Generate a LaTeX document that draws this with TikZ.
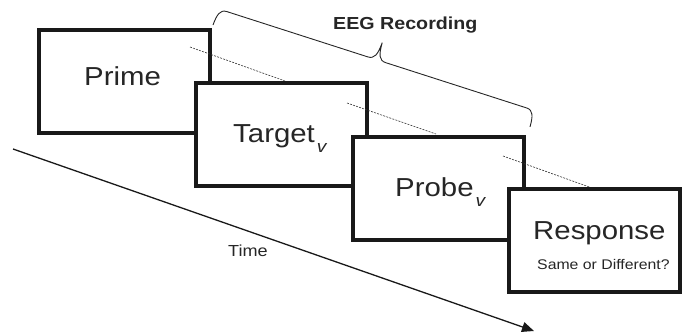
\documentclass[tikz,border=0pt]{standalone}
\usepackage{fontspec}
\setmainfont[FakeStretch=1.13]{Liberation Sans}
\usetikzlibrary{arrows.meta}
\tikzset{
  stim/.style={draw=black!90, line width=4pt, fill=white, minimum width=171pt, minimum height=103pt, inner sep=0pt},
  big/.style={anchor=base west, inner sep=0pt, font=\fontsize{26}{30}\selectfont, text=black!85},
  dashconn/.style={line width=0.6pt, dash pattern=on 2pt off 1.2pt, black!80},
  sub/.style={}
}
\newcommand{\subv}{\kern2pt\raisebox{-10pt}{\itshape\fontsize{17}{17}\selectfont v}}
\begin{document}
\begin{tikzpicture}[x=1pt,y=-1pt]
\useasboundingbox (0,0) rectangle (687,334);
% Prime
\node[stim] (prime) at (124.5,81.5) {};
\node[big] (primet) at (84,86) {Prime};
\coordinate (d1a) at (190,47);
\coordinate (d1b) at (285,81);
\draw[dashconn] (d1a) -- (d1b);
% Target
\node[stim] (target) at (281.5,134.5) {};
\node[big] (targett) at (233,142) {Target\subv};
\coordinate (d2a) at (347,103);
\coordinate (d2b) at (436,134);
\draw[dashconn] (d2a) -- (d2b);
% Probe
\node[stim] (probe) at (438.5,188) {};
\node[big] (probet) at (395,196) {Probe\subv};
\coordinate (d3a) at (503,156);
\coordinate (d3b) at (592,188);
\draw[dashconn] (d3a) -- (d3b);
% Response
\node[stim] (resp) at (594.5,240.5) {};
\node[big] (respt) at (533,239) {Response};
\node[anchor=base west, inner sep=0pt, font=\fontsize{14}{16}\selectfont, text=black!85] (same) at (537,269) {Same or Different?};
% Time arrow
\coordinate (t0) at (13,149);
\coordinate (t1) at (534,331);
\draw[line width=1.3pt, black!90, -{Triangle[length=12pt,width=10pt]}] (t0) -- (t1);
\node[anchor=base west, inner sep=0pt, font=\fontsize{16}{18}\selectfont, text=black!85] (time) at (228,256) {Time};
% Brace
\begin{scope}[shift={(213pt,-25pt)}, x={(0.952pt,-0.306pt)}, y={(0.306pt,0.952pt)}]
\draw[line width=0.9pt, black!85]
  (0,0) .. controls (0.5,11) and (2,17) .. (9,17)
  -- (157,17) .. controls (164,17) and (166,22) .. (166.5,35)
  .. controls (167,22) and (169,17) .. (176,17)
  -- (324,17) .. controls (331,17) and (332.5,11) .. (333,0);
\end{scope}
\node[anchor=base west, inner sep=0pt, font=\bfseries\fontsize{17.4}{20}\selectfont, text=black!85] (eeg) at (333,30) {EEG Recording};
\end{tikzpicture}
\end{document}
